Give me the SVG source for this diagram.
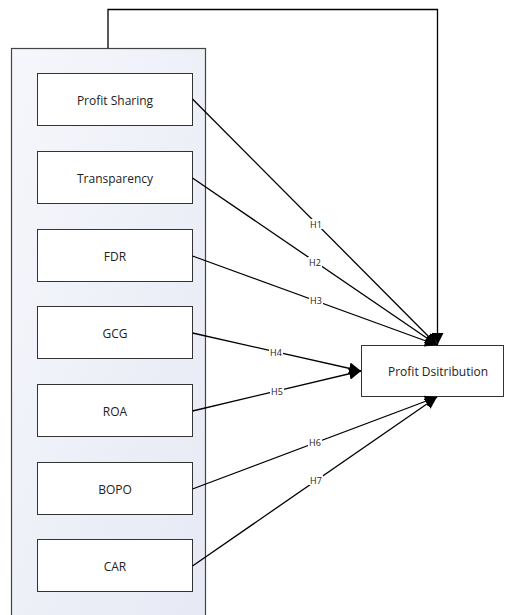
<svg xmlns="http://www.w3.org/2000/svg" width="505" height="615" viewBox="0 0 505 615">
<style>
.box{fill:#fff;stroke:#333;stroke-width:1}
.t{font-family:"Open Sans","Liberation Sans",sans-serif;font-size:12px;fill:#222;text-anchor:middle;dominant-baseline:central}
.lbl{font-family:"Open Sans","Liberation Sans",sans-serif;font-size:9px;fill:#222;text-anchor:middle;dominant-baseline:central}
.lblbg{fill:#fff}
.c{stroke:#000;stroke-width:1.3;fill:none}
</style>
<defs>
<linearGradient id="g" x1="0" y1="0" x2="1" y2="1">
<stop offset="0" stop-color="#f6f7fc"/>
<stop offset="1" stop-color="#e6e9f4"/>
</linearGradient>
<marker id="a" viewBox="0 0 10 10" refX="10" refY="5" markerWidth="12" markerHeight="12" markerUnits="userSpaceOnUse" orient="auto">
<path d="M0,0 L10,5 L0,10 z" fill="#000"/>
</marker>
</defs>
<g id="container"><rect x="11.5" y="48.5" width="194" height="580" fill="url(#g)" stroke="#444" stroke-width="1.2"/></g>
<g id="n1"><rect class="box" x="37.5" y="73.5" width="155" height="52"/><text class="t" x="115" y="100">Profit Sharing</text></g>
<g id="n2"><rect class="box" x="37.5" y="151.5" width="155" height="52"/><text class="t" x="115" y="178">Transparency</text></g>
<g id="n3"><rect class="box" x="37.5" y="229.5" width="155" height="52"/><text class="t" x="115" y="256">FDR</text></g>
<g id="n4"><rect class="box" x="37.5" y="306.5" width="155" height="52"/><text class="t" x="115" y="333">GCG</text></g>
<g id="n5"><rect class="box" x="37.5" y="384.5" width="155" height="52"/><text class="t" x="115" y="411">ROA</text></g>
<g id="n6"><rect class="box" x="37.5" y="462.5" width="155" height="52"/><text class="t" x="115" y="489">BOPO</text></g>
<g id="n7"><rect class="box" x="37.5" y="539.5" width="155" height="52"/><text class="t" x="115" y="566">CAR</text></g>
<g id="target"><rect class="box" x="361.5" y="345.5" width="142" height="51"/><text class="t" x="438" y="371">Profit Dsitribution</text></g>
<g id="connectors">
<path class="c" d="M108,48 V9.5 H437.5 V345" marker-end="url(#a)"/>
<line class="c" x1="192.5" y1="99" x2="437" y2="345" marker-end="url(#a)"/>
<line class="c" x1="192.5" y1="178" x2="437" y2="345" marker-end="url(#a)"/>
<line class="c" x1="192.5" y1="256" x2="437" y2="345" marker-end="url(#a)"/>
<line class="c" x1="192.5" y1="333" x2="361" y2="371" marker-end="url(#a)"/>
<line class="c" x1="192.5" y1="411" x2="361" y2="371" marker-end="url(#a)"/>
<line class="c" x1="192.5" y1="489" x2="437" y2="397" marker-end="url(#a)"/>
<line class="c" x1="192.5" y1="566" x2="437" y2="397" marker-end="url(#a)"/>
<rect class="lblbg" x="309" y="219" width="14" height="10"/><text class="lbl" x="316" y="224">H1</text>
<rect class="lblbg" x="308" y="257" width="14" height="10"/><text class="lbl" x="315" y="262">H2</text>
<rect class="lblbg" x="309" y="295" width="14" height="10"/><text class="lbl" x="316" y="300">H3</text>
<rect class="lblbg" x="269" y="347" width="14" height="10"/><text class="lbl" x="276" y="352">H4</text>
<rect class="lblbg" x="270" y="386" width="14" height="10"/><text class="lbl" x="277" y="391">H5</text>
<rect class="lblbg" x="308" y="437" width="14" height="10"/><text class="lbl" x="315" y="442">H6</text>
<rect class="lblbg" x="309" y="475" width="14" height="10"/><text class="lbl" x="316" y="480">H7</text>
</g>
</svg>
